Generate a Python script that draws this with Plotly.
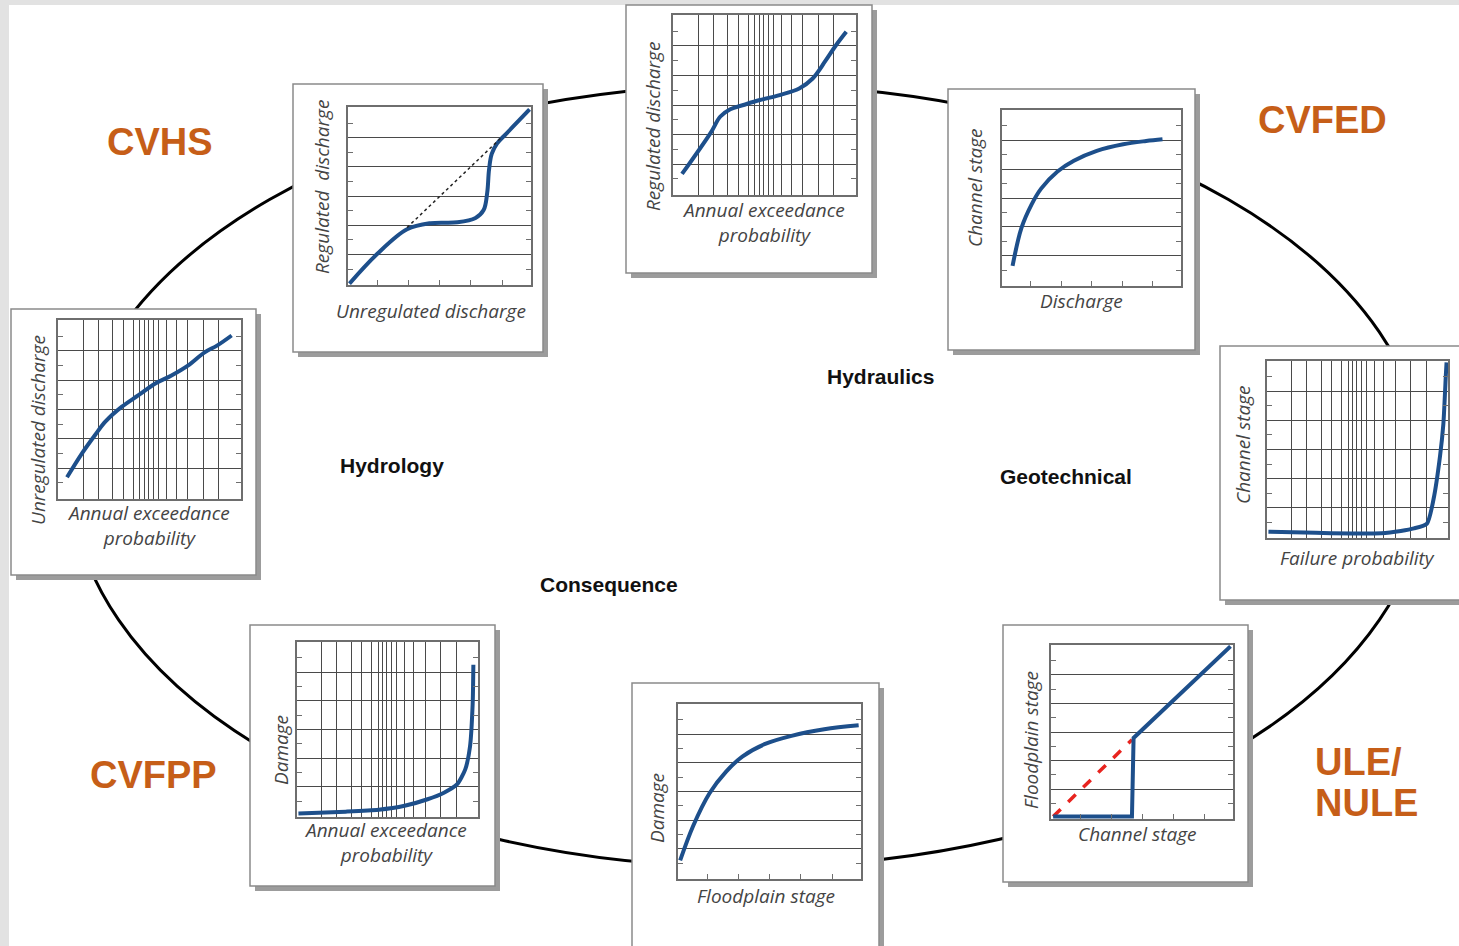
import plotly.graph_objects as go

W, H = 1459, 946

# ---------------- data ----------------
prob_grid = [0.131, 0.215, 0.296, 0.356, 0.41, 0.447, 0.474, 0.496, 0.52, 0.551,
             0.593, 0.648, 0.712, 0.797, 0.885]
lin_xticks = [0.155, 0.328, 0.501, 0.674, 0.847]
y_grid = [1/6, 2/6, 3/6, 4/6, 5/6]
y_minor = [1/12, 3/12, 5/12, 7/12, 9/12, 11/12]

p1_x = [0.0, 0.155, 0.32, 0.45, 0.6, 0.70, 0.745, 0.765, 0.775, 0.79, 0.82, 0.87, 0.94, 1.0]
p1_y = [0.0, 0.17, 0.31, 0.345, 0.35, 0.375, 0.42, 0.52, 0.65, 0.74, 0.80, 0.855, 0.93, 0.995]
p1_ref_x = [0.32, 0.85]
p1_ref_y = [0.32, 0.84]

p2_x = [0.042, 0.201, 0.255, 0.31, 0.383, 0.474, 0.584, 0.693, 0.766, 0.839, 0.894, 0.954]
p2_y = [0.111, 0.343, 0.435, 0.476, 0.5, 0.528, 0.556, 0.593, 0.648, 0.75, 0.833, 0.913]

p3_x = [0.052, 0.102, 0.158, 0.214, 0.307, 0.4, 0.53, 0.68, 0.81, 0.903]
p3_y = [0.108, 0.326, 0.459, 0.554, 0.653, 0.715, 0.772, 0.81, 0.829, 0.839]

p4_x = [0.042, 0.128, 0.2, 0.256, 0.347, 0.439, 0.53, 0.622, 0.713, 0.804, 0.877, 0.956]
p4_y = [0.115, 0.255, 0.358, 0.432, 0.516, 0.581, 0.646, 0.693, 0.749, 0.823, 0.864, 0.92]

p5_x = [0.0, 0.266, 0.633, 0.743, 0.817, 0.89, 0.927, 0.963, 0.982, 0.996, 1.0]
p5_y = [0.028, 0.022, 0.019, 0.032, 0.047, 0.075, 0.216, 0.46, 0.647, 0.929, 1.0]

p6_x = [0.0, 0.266, 0.45, 0.596, 0.725, 0.817, 0.89, 0.936, 0.963, 0.978, 0.982]
p6_y = [0.013, 0.023, 0.034, 0.057, 0.095, 0.133, 0.181, 0.267, 0.4, 0.648, 0.876]

p7_x = [0.004, 0.076, 0.167, 0.258, 0.349, 0.476, 0.622, 0.804, 0.995]
p7_y = [0.1, 0.3, 0.49, 0.614, 0.703, 0.776, 0.823, 0.861, 0.884]

p8_x = [0.004, 0.444, 0.453, 0.994]
p8_y = [0.006, 0.006, 0.465, 1.0]
p8_ref_x = [0.004, 0.444]
p8_ref_y = [0.006, 0.455]

group_labels = ["CVHS", "CVFED", "CVFPP", "ULE/", "NULE"]
process_labels = ["Hydrology", "Hydraulics", "Geotechnical", "Consequence"]

# ---------------- styling ----------------
BLUE = "#1d4f8b"
GRID = "#4a4a4a"
FRAME = "#6e6e6e"
LABEL = "#444444"
ORANGE = "#c65e18"
LFONT = "Open Sans"


def px(x):
    return x / W


def py(y):
    return 1 - y / H


AEP = "Annual exceedance<br>probability"

# panel definitions: box, plot rect, prob-grid?, y label (text, x, yc), x label (text, xc, yc)
panels = [
    dict(box=(293, 84, 543, 352), plot=(348, 107, 531, 285), prob=False,
         ylab=("Regulated  discharge", 322, 187), xlab=("Unregulated discharge", 431, 311)),
    dict(box=(626, 5, 872, 273), plot=(673, 15, 856, 195), prob=True,
         ylab=("Regulated discharge", 653, 127), xlab=(AEP, 763, 222)),
    dict(box=(948, 89, 1195, 350), plot=(1002, 110, 1181, 286), prob=False,
         ylab=("Channel stage", 975, 188), xlab=("Discharge", 1081, 301)),
    dict(box=(11, 309, 256, 575), plot=(58, 320, 241, 499), prob=True,
         ylab=("Unregulated discharge", 38, 430), xlab=(AEP, 148, 525)),
    dict(box=(1220, 346, 1475, 600), plot=(1267, 361, 1448, 538), prob=True,
         ylab=("Channel stage", 1243, 445), xlab=("Failure probability", 1357, 558)),
    dict(box=(250, 625, 495, 886), plot=(297, 642, 478, 817), prob=True,
         ylab=("Damage", 281, 750), xlab=(AEP, 385, 842)),
    dict(box=(632, 683, 879, 960), plot=(678, 704, 861, 879), prob=False,
         ylab=("Damage", 657, 808), xlab=("Floodplain stage", 766, 896)),
    dict(box=(1003, 625, 1248, 882), plot=(1051, 645, 1233, 819), prob=False,
         ylab=("Floodplain stage", 1031, 740), xlab=("Channel stage", 1137, 834)),
]

fig = go.Figure()
layout = dict(
    width=W, height=H,
    margin=dict(l=0, r=0, t=0, b=0),
    paper_bgcolor="#e2e2e2",
    plot_bgcolor="rgba(0,0,0,0)",
    showlegend=False,
)
shapes = []
annotations = []

# white slide area
shapes.append(dict(type="rect", xref="paper", yref="paper", x0=px(9), x1=px(1470),
                   y0=py(960), y1=py(5), fillcolor="white", line=dict(width=0), layer="below"))
# cycle ellipse
cx, cy, a, b = 749, 476, 678, 391
shapes.append(dict(type="circle", xref="paper", yref="paper", x0=px(cx - a), x1=px(cx + a),
                   y0=py(cy + b), y1=py(cy - b), line=dict(color="black", width=3), layer="below"))

for i, p in enumerate(panels, start=1):
    bx0, by0, bx1, by1 = p["box"]
    # shadow
    shapes.append(dict(type="rect", xref="paper", yref="paper", x0=px(bx0 + 5), x1=px(bx1 + 5),
                       y0=py(by1 + 5), y1=py(by0 + 5), fillcolor="#9c9c9c",
                       line=dict(width=0), layer="below"))
    shapes.append(dict(type="rect", xref="paper", yref="paper", x0=px(bx0), x1=px(bx1),
                       y0=py(by1), y1=py(by0), fillcolor="white",
                       line=dict(color="#8a8a8a", width=1.5), layer="below"))
    x0, y0, x1, y1 = p["plot"]
    xa = dict(domain=[px(x0), px(x1)], range=[-0.008, 1.008], anchor=f"y{i}",
              showline=True, linecolor=FRAME, linewidth=1.5, mirror=True,
              showticklabels=False, zeroline=False, fixedrange=True)
    if p["prob"]:
        xa.update(tickmode="array", tickvals=prob_grid, showgrid=True, gridcolor=GRID,
                  gridwidth=1, ticks="")
    else:
        xa.update(tickmode="array", tickvals=lin_xticks, showgrid=False, ticks="inside",
                  ticklen=5, tickwidth=1, tickcolor=FRAME)
    ya = dict(domain=[py(y1), py(y0)], range=[-0.008, 1.008], anchor=f"x{i}",
              showline=True, linecolor=FRAME, linewidth=1.5, mirror="ticks",
              showticklabels=False, zeroline=False, fixedrange=True,
              tickmode="array", tickvals=y_grid, showgrid=True, gridcolor=GRID, gridwidth=1,
              ticks="",
              minor=dict(tickmode="array", tickvals=y_minor, ticks="inside", ticklen=5,
                         tickwidth=1, tickcolor=FRAME, showgrid=False))
    layout[f"xaxis{i}"] = xa
    layout[f"yaxis{i}"] = ya

    t, lx, lyc = p["ylab"]
    annotations.append(dict(text=f"<i>{t}</i>", x=px(lx), y=py(lyc), xref="paper", yref="paper",
                            showarrow=False, textangle=-90, xanchor="center", yanchor="middle",
                            font=dict(family=LFONT, size=19, color=LABEL)))
    t, lxc, lyc = p["xlab"]
    annotations.append(dict(text=f"<i>{t}</i>", x=px(lxc), y=py(lyc), xref="paper", yref="paper",
                            showarrow=False, xanchor="center", yanchor="middle",
                            font=dict(family=LFONT, size=19, color=LABEL)))

curves = [(1, p1_x, p1_y), (2, p2_x, p2_y), (3, p3_x, p3_y), (4, p4_x, p4_y),
          (7, p7_x, p7_y)]
for i, xs, ys in curves:
    fig.add_trace(go.Scatter(x=xs, y=ys, mode="lines", xaxis=f"x{i}", yaxis=f"y{i}",
                             line=dict(color=BLUE, width=4, shape="spline", smoothing=1.0),
                             hoverinfo="skip"))
for i, xs, ys in [(5, p5_x, p5_y), (6, p6_x, p6_y)]:
    fig.add_trace(go.Scatter(x=xs, y=ys, mode="lines", xaxis=f"x{i}", yaxis=f"y{i}",
                             line=dict(color=BLUE, width=4, shape="spline", smoothing=0.6),
                             hoverinfo="skip"))
fig.add_trace(go.Scatter(x=p1_ref_x, y=p1_ref_y, mode="lines", xaxis="x1", yaxis="y1",
                         line=dict(color="#222", width=1.5, dash="dot"), hoverinfo="skip"))
fig.add_trace(go.Scatter(x=p8_ref_x, y=p8_ref_y, mode="lines", xaxis="x8", yaxis="y8",
                         line=dict(color="#e8241f", width=3.5, dash="dash"), hoverinfo="skip"))
fig.add_trace(go.Scatter(x=p8_x, y=p8_y, mode="lines", xaxis="x8", yaxis="y8",
                         line=dict(color=BLUE, width=4), hoverinfo="skip"))

# big orange labels
orange_pos = [(160, 142, "center"), (1322, 120, "center"), (153, 775, "center"),
              (1313, 762, "left"), (1313, 803, "left")]
for txt, (x, y, anc) in zip(group_labels, orange_pos):
    annotations.append(dict(text=f"<b>{txt}</b>", x=px(x), y=py(y), xref="paper", yref="paper",
                            showarrow=False, xanchor=anc, yanchor="middle",
                            font=dict(family="Liberation Sans", size=38, color=ORANGE)))

proc_pos = [(392, 465), (880, 377), (1066, 476), (609, 584)]
for txt, (x, y) in zip(process_labels, proc_pos):
    annotations.append(dict(text=f"<b>{txt}</b>", x=px(x), y=py(y), xref="paper", yref="paper",
                            showarrow=False, xanchor="center", yanchor="middle",
                            font=dict(family="Liberation Sans", size=21, color="#111")))

layout["shapes"] = shapes
layout["annotations"] = annotations
fig.update_layout(**layout)
fig.write_html("out.html", config=dict(displayModeBar=False),
               post_script="document.body.style.margin='0';document.body.style.overflow='hidden';")
